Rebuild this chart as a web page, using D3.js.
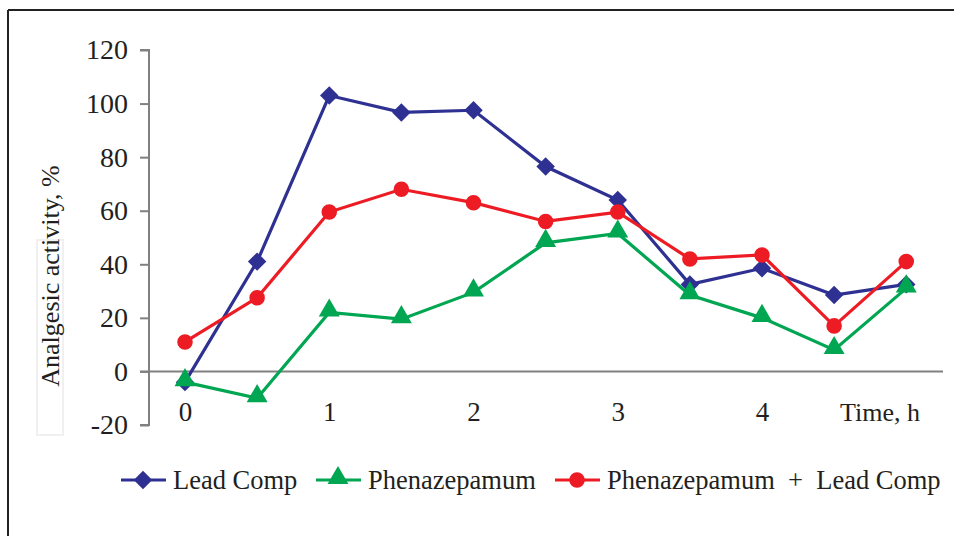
<!DOCTYPE html>
<html><head><meta charset="utf-8">
<script src="https://cdn.jsdelivr.net/npm/d3@7"></script>
<style>body{margin:0;background:#fff}svg{display:block}text{font-family:"Liberation Serif","Times New Roman",serif;fill:#231f20}</style>
</head><body><svg id="c" width="954" height="536"></svg>
<script>
const times = [0,0.5,1,1.5,2,2.5,3,3.5,4,4.5,5];
const xTickValues = [0,1,2,3,4];
const yTickValues = [-20,0,20,40,60,80,100,120];
const leadComp = [-4,41,103,96.7,97.5,76.5,64,32.5,38.5,28.5,32.5];
const phenazepamum = [-4,-10,22,19.5,29.5,48,51.5,28.5,20,8,31];
const combo = [11,27.5,59.5,68,63,56,59.5,42,43.5,17,41];
const seriesNames = ["Lead Comp","Phenazepamum","Phenazepamum  +  Lead Comp"];
const colors = ["#2e3192","#00a651","#ed1c24"];
const shapes = [d3.symbolSquare, d3.symbolTriangle, d3.symbolCircle];
const rot = [45,0,0];

const svg = d3.select("#c");
svg.append("line").attr("x1",8).attr("x2",954).attr("y1",10).attr("y2",10).attr("stroke","#222").attr("stroke-width",2);
svg.append("line").attr("x1",8).attr("x2",8).attr("y1",10).attr("y2",536).attr("stroke","#222").attr("stroke-width",2);
svg.append("rect").attr("x",37).attr("y",240).attr("width",26).attr("height",195).attr("fill","none").attr("stroke","#f0f0f0").attr("stroke-width",2);

const x = d3.scaleLinear().domain([0,4]).range([185,762]);
const y = d3.scaleLinear().domain([-20,120]).range([425,50]);

const ya = svg.append("g").attr("transform","translate(149,0)")
  .call(d3.axisLeft(y).tickValues(yTickValues).tickSize(9).tickPadding(12).tickFormat(d=>String(d)));
ya.select(".domain").attr("stroke","#808080").attr("stroke-width",2).attr("d","M-9,"+y(120)+"H0V"+y(-20)+"H-9");
ya.selectAll(".tick line").attr("stroke","#808080").attr("stroke-width",2);
ya.selectAll(".tick text").style("font-size","28px").attr("fill","#231f20").style("font-family","Liberation Serif");
svg.append("line").attr("x1",140).attr("x2",943).attr("y1",y(0)).attr("y2",y(0)).attr("stroke","#808080").attr("stroke-width",2);

const xa = svg.append("g").attr("transform","translate(0,"+y(-20)+")")
  .call(d3.axisBottom(x).tickValues(xTickValues).tickSize(0).tickPadding(0).tickFormat(d=>String(d)));
xa.select(".domain").remove();
xa.selectAll(".tick text").attr("y",-4).attr("dy","0").style("font-size","27px").attr("fill","#231f20").style("font-family","Liberation Serif");
svg.append("text").attr("x",880).attr("y",y(-20)-4).attr("text-anchor","middle").style("font-size","26px").text("Time, h");

svg.append("text").attr("transform","translate(59,276) rotate(-90)").attr("text-anchor","middle").style("font-size","26px").text("Analgesic activity, %");

const data = [leadComp, phenazepamum, combo];
const sizes = [170, 190, 190];
const line = d3.line().x((d,i)=>x(times[i])).y(d=>y(d));
data.forEach((s,k)=>{
  svg.append("path").datum(s).attr("d",line).attr("fill","none").attr("stroke",colors[k]).attr("stroke-width",3.2);
  svg.append("g").selectAll("path").data(s).join("path")
    .attr("transform",(d,i)=>"translate("+x(times[i])+","+(y(d)+(k===1?-2:0))+") rotate("+rot[k]+")")
    .attr("d",d3.symbol().type(shapes[k]).size(sizes[k])).attr("fill",colors[k]);
});

const legX = [121,316,555];
const legY = 480;
seriesNames.forEach((n,k)=>{
  const g = svg.append("g").attr("transform","translate("+legX[k]+","+legY+")");
  g.append("line").attr("x1",0).attr("x2",45).attr("stroke",colors[k]).attr("stroke-width",3.2);
  g.append("path").attr("transform","translate(22,"+(k===1?-2:0)+") rotate("+rot[k]+")").attr("d",d3.symbol().type(shapes[k]).size(sizes[k])).attr("fill",colors[k]);
  g.append("text").attr("x",52).attr("y",9).style("font-size","26.5px").style("white-space","pre").text(n);
});
</script></body></html>
